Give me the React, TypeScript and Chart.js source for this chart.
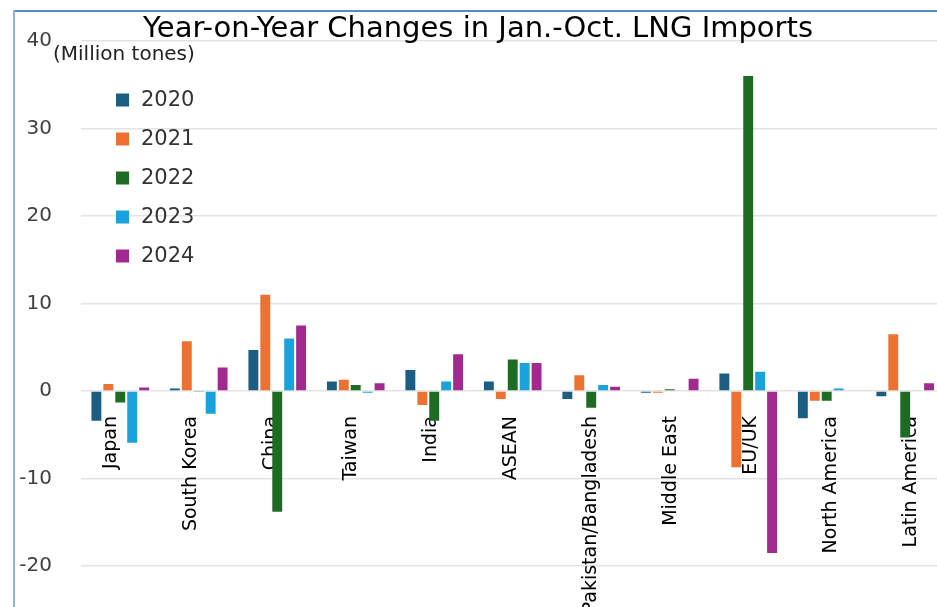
import React, { useEffect, useRef } from "react";
import { Chart, registerables } from "chart.js";

Chart.register(...registerables);

const titleText = "Year-on-Year Changes in Jan.-Oct. LNG Imports";
const unitText = "(Million tones)";

const categories = [
  "Japan",
  "South Korea",
  "China",
  "Taiwan",
  "India",
  "ASEAN",
  "Pakistan/Bangladesh",
  "Middle East",
  "EU/UK",
  "North America",
  "Latin America",
];

const seriesLabels = ["2020", "2021", "2022", "2023", "2024"];

const values2020 = [-3.4, 0.3, 4.7, 1.1, 2.4, 1.1, -0.9, -0.2, 2.0, -3.1, -0.6];
const values2021 = [0.8, 5.7, 11.0, 1.3, -1.6, -0.9, 1.8, -0.2, -8.7, -1.1, 6.5];
const values2022 = [-1.3, -0.1, -13.8, 0.7, -3.4, 3.6, -1.9, 0.2, 36.0, -1.1, -5.3];
const values2023 = [-5.9, -2.6, 6.0, -0.2, 1.1, 3.2, 0.7, 0.1, 2.2, 0.3, 0.0];
const values2024 = [0.4, 2.7, 7.5, 0.9, 4.2, 3.2, 0.5, 1.4, -18.5, 0.0, 0.9];

const seriesValues = [values2020, values2021, values2022, values2023, values2024];
const seriesColors = ["#1b5e82", "#ed7231", "#1e6b23", "#1aa2dc", "#a2298f"];

const yTickValues = [-20, -10, 0, 10, 20, 30, 40];

const FONT = '"DejaVu Sans", Verdana, sans-serif';

// category labels drift slightly right of their groups in the original
const LABEL_DRIFT = 1.5;

const labelDriftPlugin = {
  id: "labelDrift",
  beforeDraw(chart: any) {
    const scale = chart.scales.x;
    if (!scale || !scale.getLabelItems) return;
    const items = scale.getLabelItems(chart.chartArea);
    items.forEach((item: any, i: number) => {
      if (item && item.options && item.options.translation && !item._drifted) {
        item.options.translation[0] += LABEL_DRIFT * i;
        item._drifted = true;
      }
    });
  },
};

const overlayPlugin = {
  id: "overlay",
  afterDraw(chart: any) {
    const ctx = chart.ctx as CanvasRenderingContext2D;
    ctx.save();
    // frame
    ctx.lineWidth = 2;
    ctx.strokeStyle = "#5a89c6";
    ctx.beginPath();
    ctx.moveTo(13, 11);
    ctx.lineTo(chart.width + 20, 11);
    ctx.stroke();
    ctx.strokeStyle = "#8fb2df";
    ctx.beginPath();
    ctx.moveTo(14, 10);
    ctx.lineTo(14, chart.height + 20);
    ctx.stroke();
    // title
    ctx.fillStyle = "#000";
    ctx.font = `29px ${FONT}`;
    ctx.textAlign = "center";
    ctx.textBaseline = "middle";
    ctx.fillText(titleText, 478, 29);
    // unit
    ctx.font = `20px ${FONT}`;
    ctx.textAlign = "left";
    ctx.fillStyle = "#222";
    ctx.fillText(unitText, 53, 55);
    // legend
    chart.data.datasets.forEach((ds: any, i: number) => {
      const y = 100 + i * 39;
      ctx.fillStyle = ds.backgroundColor;
      ctx.fillRect(116, y - 6.5, 13, 13);
      ctx.fillStyle = "#333";
      ctx.font = `21px ${FONT}`;
      ctx.textAlign = "left";
      ctx.textBaseline = "middle";
      ctx.fillText(ds.label, 141, y + 1);
    });
    ctx.restore();
  },
};

export default function App() {
  const canvasRef = useRef<HTMLCanvasElement | null>(null);

  useEffect(() => {
    if (!canvasRef.current) return;
    const chart = new Chart(canvasRef.current, {
      type: "bar",
      data: {
        labels: categories,
        datasets: seriesLabels.map((label, i) => ({
          label,
          data: seriesValues[i],
          backgroundColor: seriesColors[i],
          borderWidth: 0,
          categoryPercentage: 0.76,
          barPercentage: 0.83,
        })),
      },
      options: {
        responsive: true,
        maintainAspectRatio: false,
        animation: false,
        layout: { padding: { top: 29, bottom: 34, left: 0, right: 0 } },
        plugins: {
          legend: { display: false },
          title: { display: false },
          tooltip: { enabled: false },
        },
        scales: {
          x: {
            type: "category",
            position: { y: 0 } as any,
            z: 1,
            grid: { display: false },
            border: { display: false },
            ticks: {
              autoSkip: false,
              minRotation: 90,
              maxRotation: 90,
              padding: 17,
              labelOffset: -9,
              color: "#000",
              font: { family: FONT, size: 19 },
            },
          },
          y: {
            min: -20,
            max: 40,
            afterBuildTicks: (scale: any) => {
              scale.ticks = yTickValues.map((v) => ({ value: v }));
            },
            afterFit: (scale: any) => {
              scale.width = 81;
            },
            grid: { color: "#e3e3e3", lineWidth: 1.5, drawTicks: false },
            border: { display: false },
            ticks: {
              padding: 29,
              color: "#404040",
              font: { family: FONT, size: 20 },
            },
          },
        },
      },
      plugins: [labelDriftPlugin, overlayPlugin],
    });
    return () => chart.destroy();
  }, []);

  return (
    <div
      style={{
        position: "fixed",
        left: 0,
        top: 0,
        width: 945,
        height: 607,
        background: "#fff",
      }}
    >
      <canvas ref={canvasRef} />
    </div>
  );
}
